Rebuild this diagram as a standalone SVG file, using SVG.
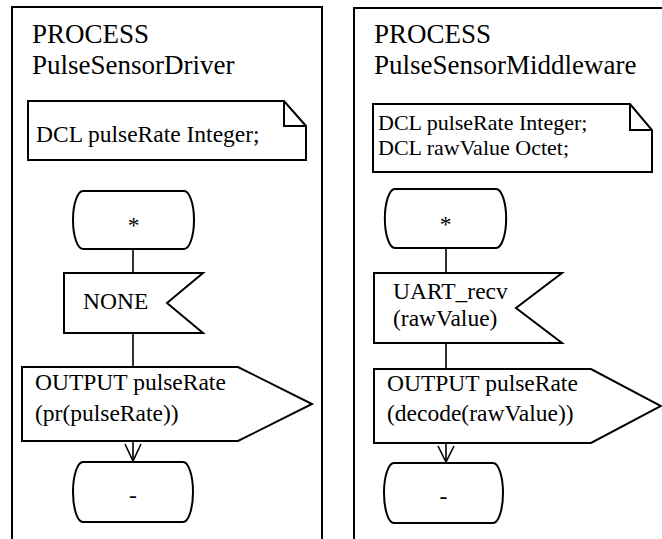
<svg xmlns="http://www.w3.org/2000/svg" width="662" height="539" viewBox="0 0 662 539">
  <style>
    .frame { fill: none; stroke: #000; stroke-width: 2; }
    .shape { fill: #fff; stroke: #000; stroke-width: 2; stroke-linejoin: miter; }
    .fold { fill: none; stroke: #000; stroke-width: 2; }
    .conn { fill: none; stroke: #000; stroke-width: 1.6; }
    .title { font-family: "Liberation Serif", "Times New Roman", serif; font-size: 27px; fill: #000; }
    .txt { font-family: "Liberation Serif", "Times New Roman", serif; font-size: 23.5px; fill: #000; }
    .dcl2 { font-size: 22px; }
    .mid { text-anchor: middle; }
  </style>
  <rect width="662" height="539" fill="#fff"/>

  <!-- process PulseSensorDriver -->
  <g id="process-driver">
    <rect class="frame" x="12" y="7" width="310" height="560"/>
    <text class="title" x="32" y="43">PROCESS</text>
    <text class="title" x="32" y="74">PulseSensorDriver</text>
  </g>
  <g id="driver-dcl">
    <path class="shape" d="M28,101 H284 L306,126 V160 H28 Z"/>
    <path class="fold" d="M284,101 V126 H306"/>
    <text class="txt" x="36" y="142">DCL pulseRate Integer;</text>
  </g>
  <g id="driver-start">
    <path class="shape" d="M83,191 H184 A10,29 0 0 1 184,249 H83 A10,29 0 0 1 83,191 Z"/>
    <text class="txt mid" x="133.5" y="233">*</text>
  </g>
  <g id="driver-input">
    <path class="shape" d="M64,273 H203 L167,303 L203,333 H64 Z"/>
    <text class="txt" x="83" y="309">NONE</text>
  </g>
  <g id="driver-output">
    <path class="shape" d="M22,367 H238 L312,404 L238,441 H22 Z"/>
    <text class="txt" x="35" y="390">OUTPUT pulseRate</text>
    <text class="txt" x="35" y="421">(pr(pulseRate))</text>
  </g>
  <g id="driver-next">
    <path class="shape" d="M83,462 H183 A10,30 0 0 1 183,522 H83 A10,30 0 0 1 83,462 Z"/>
    <text class="txt mid" x="133" y="503">-</text>
  </g>

  <!-- process PulseSensorMiddleware -->
  <g id="process-middleware">
    <rect class="frame" x="354" y="8" width="340" height="560"/>
    <text class="title" x="374" y="43">PROCESS</text>
    <text class="title" x="374" y="74">PulseSensorMiddleware</text>
  </g>
  <g id="middleware-dcl">
    <path class="shape" d="M373,104 H630 L652,130 V172 H373 Z"/>
    <path class="fold" d="M630,104 V130 H652"/>
    <text class="txt dcl2" x="378" y="130">DCL pulseRate Integer;</text>
    <text class="txt dcl2" x="378" y="155">DCL rawValue Octet;</text>
  </g>
  <g id="middleware-start">
    <path class="shape" d="M395,189 H496 A10,29 0 0 1 496,248 H395 A10,29 0 0 1 395,189 Z"/>
    <text class="txt mid" x="445.5" y="232">*</text>
  </g>
  <g id="middleware-input">
    <path class="shape" d="M374,273 H562 L516,308 L562,343 H374 Z"/>
    <text class="txt" x="393" y="299">UART_recv</text>
    <text class="txt" x="393" y="326">(rawValue)</text>
  </g>
  <g id="middleware-output">
    <path class="shape" d="M374,369 H591 L661,406 L591,443 H374 Z"/>
    <text class="txt" x="387" y="391">OUTPUT pulseRate</text>
    <text class="txt" x="387" y="421">(decode(rawValue))</text>
  </g>
  <g id="middleware-next">
    <path class="shape" d="M394,463 H493 A10,30 0 0 1 493,523 H394 A10,30 0 0 1 394,463 Z"/>
    <text class="txt mid" x="443.5" y="504">-</text>
  </g>

  <!-- flow lines -->
  <g id="connectors">
    <line class="conn" x1="133" y1="249" x2="133" y2="273"/>
    <line class="conn" x1="133" y1="333" x2="133" y2="367"/>
    <line class="conn" x1="133" y1="441" x2="133" y2="462"/>
    <polyline class="conn" points="125,444 133,461 141,444"/>
    <line class="conn" x1="446" y1="248" x2="446" y2="273"/>
    <line class="conn" x1="446" y1="343" x2="446" y2="369"/>
    <line class="conn" x1="446" y1="443" x2="446" y2="463"/>
    <polyline class="conn" points="438,446 446,462 454,446"/>
  </g>
</svg>
